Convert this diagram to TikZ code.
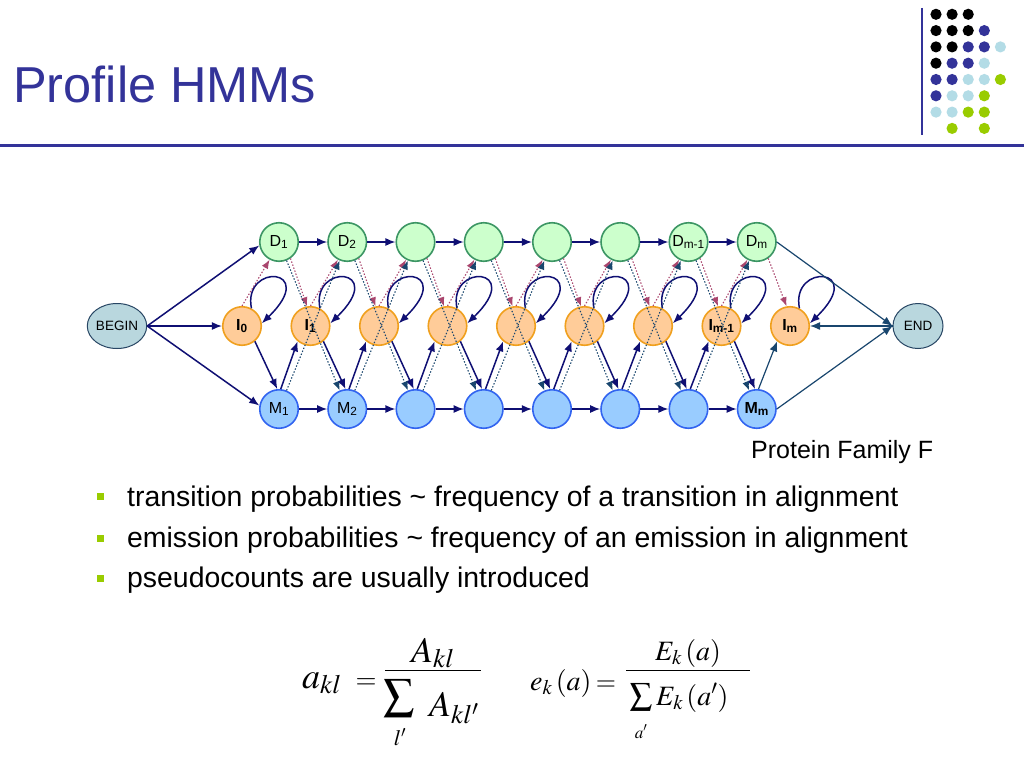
\documentclass[tikz,border=0pt]{standalone}
\usepackage{mathptmx}
\usepackage[no-math]{fontspec}
\setmainfont{Liberation Sans}
\usetikzlibrary{arrows.meta,calc,shapes.geometric}
\definecolor{titleblue}{RGB}{51,51,153}
\definecolor{dotblack}{RGB}{0,0,0}
\definecolor{dotblue}{RGB}{51,51,153}
\definecolor{dotlight}{RGB}{179,220,230}
\definecolor{dotgreen}{RGB}{153,204,0}
\definecolor{navy}{RGB}{15,15,115}
\definecolor{tealdk}{RGB}{25,70,110}
\definecolor{maroonp}{RGB}{170,70,110}
\definecolor{dfill}{RGB}{204,255,204}
\definecolor{ddraw}{RGB}{60,150,100}
\definecolor{ifill}{RGB}{255,204,153}
\definecolor{idraw}{RGB}{240,160,30}
\definecolor{mfill}{RGB}{153,204,255}
\definecolor{mdraw}{RGB}{50,100,240}
\definecolor{tfill}{RGB}{185,215,222}
\definecolor{tdraw}{RGB}{40,70,100}
\begin{document}
\begin{tikzpicture}[x=1pt,y=-1pt,
  state/.style={circle,line width=1.6pt,minimum size=38.5pt,inner sep=0pt,font=\fontsize{16}{16}\selectfont},
  dnode/.style={state,draw=ddraw,fill=dfill},
  inode/.style={state,draw=idraw,fill=ifill,font=\fontsize{16}{16}\selectfont\bfseries},
  mnode/.style={state,draw=mdraw,fill=mfill},
  term/.style={ellipse,draw=tdraw,fill=tfill,line width=1pt,minimum width=50pt,minimum height=45pt,inner sep=0pt,font=\fontsize{13.5}{13.5}\selectfont},
  solidarr/.style={draw=navy,line width=1.5pt,-{Latex[length=10pt,width=8pt]}},
  thinarr/.style={draw=tealdk,line width=1.2pt,-{Latex[length=10pt,width=8pt]}},
  dotmar/.style={draw=maroonp,line width=1.1pt,dash pattern=on 1.4pt off 1.8pt,-{Latex[length=9pt,width=7pt]}},
  dotteal/.style={draw=tealdk,line width=1.1pt,dash pattern=on 1.4pt off 1.8pt,-{Latex[length=9pt,width=7pt]}},
  bul/.style={fill=dotgreen},
  btext/.style={anchor=base west,inner sep=0pt,font=\fontsize{28.4}{28.4}\selectfont},
]
\useasboundingbox (0,0) rectangle (1024,768);
\fill[white] (0,0) rectangle (1024,768);

% header
\node[anchor=base west,inner sep=0pt,text=titleblue,font=\fontsize{50.5}{50.5}\selectfont] (title) at (13,102) {Profile HMMs};
\draw[titleblue,line width=3pt] (0,145) -- (1024,145);
\draw[titleblue,line width=2.5pt] (922,8) -- (922,135);
\foreach \c/\r in {0/0,1/0,2/0,0/1,1/1,2/1,0/2,1/2,0/3}
  \fill[dotblack] (936+16.1*\c,14.3+16.3*\r) circle (5.6);
\foreach \c/\r in {3/1,2/2,3/2,1/3,2/3,0/4,1/4,0/5}
  \fill[dotblue] (936+16.1*\c,14.3+16.3*\r) circle (5.6);
\foreach \c/\r in {4/2,3/3,2/4,3/4,1/5,2/5,0/6,1/6}
  \fill[dotlight] (936+16.1*\c,14.3+16.3*\r) circle (5.6);
\foreach \c/\r in {4/4,3/5,2/6,3/6,1/7,3/7}
  \fill[dotgreen] (936+16.1*\c,14.3+16.3*\r) circle (5.6);

% nodes
\node[term] (BEGIN) at (117,326) {BEGIN};
\node[term] (END) at (918,326) {END};
\foreach \k/\lab in {1/D\textsubscript{1},2/D\textsubscript{2},3/,4/,5/,6/,7/D\textsubscript{m-1},8/D\textsubscript{m}}
  \node[dnode] (D\k) at ({279+68.25*(\k-1)},242) {\lab};
\foreach \k/\lab in {1/M\textsubscript{1},2/M\textsubscript{2},3/,4/,5/,6/,7/,8/\textbf{M\textsubscript{m}}}
  \node[mnode] (M\k) at ({279+68.25*(\k-1)},409) {\lab};
\foreach \k/\lab in {0/I\textsubscript{0},1/I\textsubscript{1},2/,3/,4/,5/,6/,7/I\textsubscript{m-1},8/I\textsubscript{m}}
  \node[inode] (I\k) at ({242+68.5*\k},326) {\lab};

% begin edges
\draw[solidarr] (BEGIN.east) -- (D1.190);
\draw[solidarr] (BEGIN.east) -- (I0.west);
\draw[solidarr] (BEGIN.east) -- (M1.170);

% chains
\foreach \k [evaluate=\k as \n using int(\k+1)] in {1,...,7} {
  \draw[solidarr] (D\k.east) -- (D\n.west);
  \draw[solidarr] (M\k.east) -- (M\n.west);
}
% self loops
\foreach \k in {0,...,8}
  \draw[solidarr] (I\k.62) .. controls +(-9,-46) and +(58,-56) .. (I\k.8);
% insert <-> match
\foreach \k [evaluate=\k as \n using int(\k+1)] in {0,...,7}
  \draw[solidarr] (I\k.-50) -- (M\n.95);
\foreach \k in {1,...,7}
  \draw[solidarr] (M\k.85) -- (I\k.-130);
\draw[thinarr] (M8.85) -- (I8.-130);
% dotted maroon
\foreach \k in {1,...,8}
  \draw[dotmar] (D\k.-55) -- (I\k.100);
\foreach \k [evaluate=\k as \n using int(\k+1)] in {0,...,7}
  \draw[dotmar] (I\k.north) -- (D\n.-118);
% dotted teal
\foreach \k [evaluate=\k as \n using int(\k+1)] in {1,...,7} {
  \draw[dotteal] (D\k) -- (M\n);
  \draw[dotteal] (M\k) -- (D\n);
}
% end edges
\draw[thinarr] (D8.east) -- (END.west);
\draw[thinarr] (M8.east) -- (END.west);
\draw[thinarr] (END.west) -- (I8.east);

\node[anchor=base west,inner sep=0pt,font=\fontsize{25}{25}\selectfont] (fam) at (751,458) {Protein Family F};

% bullets
\fill[bul] (96.5,493) rectangle +(7,7);
\fill[bul] (96.5,535) rectangle +(7,7);
\fill[bul] (96.5,575) rectangle +(7,7);
\node[btext] (b1) at (127,506) {transition probabilities \char`\~{} frequency of a transition in alignment};
\node[btext] (b2) at (127,547) {emission probabilities \char`\~{} frequency of an emission in alignment};
\node[btext] (b3) at (127,587) {pseudocounts are usually introduced};

% formulas
\begin{scope}[every node/.style={inner sep=0pt}]
\node[anchor=base west,font=\fontsize{36}{40}\selectfont] (akl) at (302,688) {$a_{kl}$};
\node[anchor=base,font=\fontsize{27}{30}\selectfont] (eq1) at (366,688) {$=$};
\node[anchor=base,font=\fontsize{36}{40}\selectfont] (num1) at (433,662) {$A_{kl}$};
\draw[line width=1pt] (385,670) -- (481,670);
\node[font=\fontsize{44}{48}\selectfont] (sum1) at (399,698) {$\sum$};
\node[anchor=base,font=\fontsize{22}{24}\selectfont] (lim1) at (400,745) {$l'$};
\node[anchor=base west,font=\fontsize{36}{40}\selectfont] (den1) at (429,716) {$A_{kl'}$};

\node[anchor=base west,font=\fontsize{28}{32}\selectfont] (eka) at (530,690) {$e_k\,(a)$};
\node[anchor=base,font=\fontsize{26}{30}\selectfont] (eq2) at (606,690) {$=$};
\node[anchor=base,font=\fontsize{28}{32}\selectfont] (num2) at (688,660) {$E_k\,(a)$};
\draw[line width=1pt] (626,670) -- (750,670);
\node[font=\fontsize{32}{36}\selectfont] (sum2) at (641,697) {$\sum$};
\node[anchor=base,font=\fontsize{17}{20}\selectfont] (lim2) at (641,738) {$a'$};
\node[anchor=base west,font=\fontsize{28}{32}\selectfont] (den2) at (656,705) {$E_k\,(a')$};
\end{scope}
\end{tikzpicture}
\end{document}
